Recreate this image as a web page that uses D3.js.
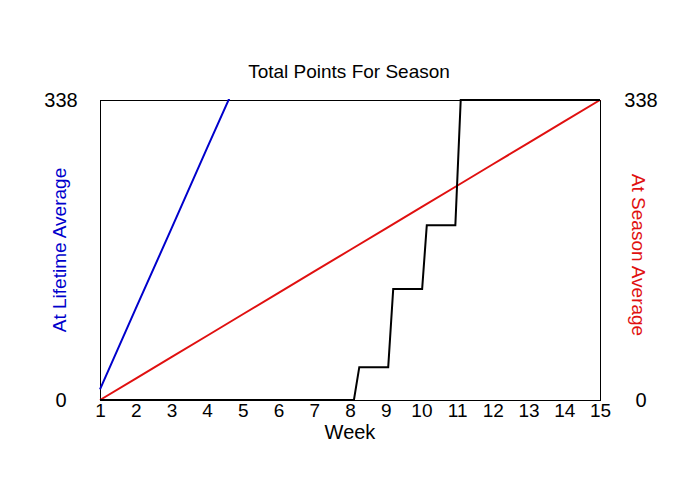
<!DOCTYPE html>
<html>
<head>
<meta charset="utf-8">
<title>Total Points For Season</title>
<style>
body { margin: 0; background: #fff; font-family: "Liberation Sans", Arial, sans-serif; }
svg { display: block; }
.tick text { font-size: 19px; fill: #000; }
</style>
<script src="https://d3js.org/d3.v7.min.js"></script>
</head>
<body>
<div id="chart"></div>
<script>
// week ticks along the bottom
var weeks = [1,2,3,4,5,6,7,8,9,10,11,12,13,14,15];
var yMax = 338;

// actual season total (step line)
var actualWeek = [1, 8.11, 8.26, 9.07, 9.21, 10.02, 10.15, 10.95, 11.1, 15];
var actualPts  = [0, 0, 37, 37, 125, 125, 197, 197, 338, 338];

// projected at lifetime average (blue)
var lifeWeek = [1, 2, 3, 4, 5];
var lifePts  = [12, 103, 193, 284, 374];

// projected at season average (red)
var seasonWeek = [1,2,3,4,5,6,7,8,9,10,11,12,13,14,15];
var seasonPts  = [0, 24.1, 48.3, 72.4, 96.6, 120.7, 144.9, 169, 193.1, 217.3, 241.4, 265.6, 289.7, 313.9, 338];

var W = 700, H = 500;
var m = {left: 100, right: 100, top: 100, bottom: 100};

var svg = d3.select('#chart').append('svg').attr('width', W).attr('height', H);

var x = d3.scaleLinear().domain([1, 15]).range([m.left, W - m.right]);
var y = d3.scaleLinear().domain([0, yMax]).range([H - m.bottom, m.top]);

svg.append('defs').append('clipPath').attr('id', 'plot')
  .append('rect').attr('x', m.left - 1).attr('y', m.top - 1)
  .attr('width', W - m.left - m.right + 2).attr('height', H - m.top - m.bottom + 2);

// frame
svg.append('rect')
  .attr('x', m.left + 0.5).attr('y', m.top + 0.5)
  .attr('width', W - m.left - m.right).attr('height', H - m.top - m.bottom)
  .attr('fill', 'none').attr('stroke', '#000').attr('stroke-width', 1)
  .attr('shape-rendering', 'crispEdges');

var line = d3.line().x(d => x(d[0])).y(d => y(d[1]));
var g = svg.append('g').attr('clip-path', 'url(#plot)');

function draw(xs, ys, color) {
  g.append('path')
    .datum(xs.map((v, i) => [v, ys[i]]))
    .attr('d', line)
    .attr('fill', 'none')
    .attr('stroke', color)
    .attr('stroke-width', 2);
}
draw(seasonWeek, seasonPts, '#e01010');
draw(lifeWeek, lifePts, '#0000cc');
draw(actualWeek, actualPts, '#000');

// x axis (labels only)
var xa = svg.append('g').attr('transform', `translate(0,${H - m.bottom})`)
  .call(d3.axisBottom(x).tickValues(weeks).tickFormat(d3.format('d')).tickSize(0).tickPadding(3));
xa.select('.domain').remove();

// y ticks, 0 and max on each side
[[61, d3.axisLeft], [641, d3.axisRight]].forEach(function (s) {
  var ya = svg.append('g').attr('transform', `translate(${s[0]},0)`)
    .call(s[1](y).tickValues([0, yMax]).tickSize(0).tickPadding(0));
  ya.select('.domain').remove();
  ya.selectAll('text').attr('text-anchor', 'middle').attr('x', 0).style('font-size', '20px');
});

svg.append('text').attr('x', 349).attr('y', 78).attr('text-anchor', 'middle')
  .style('font-size', '19px').text('Total Points For Season');

svg.append('text').attr('x', 350).attr('y', 439).attr('text-anchor', 'middle')
  .style('font-size', '20px').text('Week');

svg.append('text').attr('transform', 'translate(66,250) rotate(-90)')
  .attr('text-anchor', 'middle').attr('fill', '#0000cc')
  .style('font-size', '19px').text('At Lifetime Average');

svg.append('text').attr('transform', 'translate(632,255) rotate(90)')
  .attr('text-anchor', 'middle').attr('fill', '#e01010')
  .style('font-size', '19px').text('At Season Average');
</script>
</body>
</html>
